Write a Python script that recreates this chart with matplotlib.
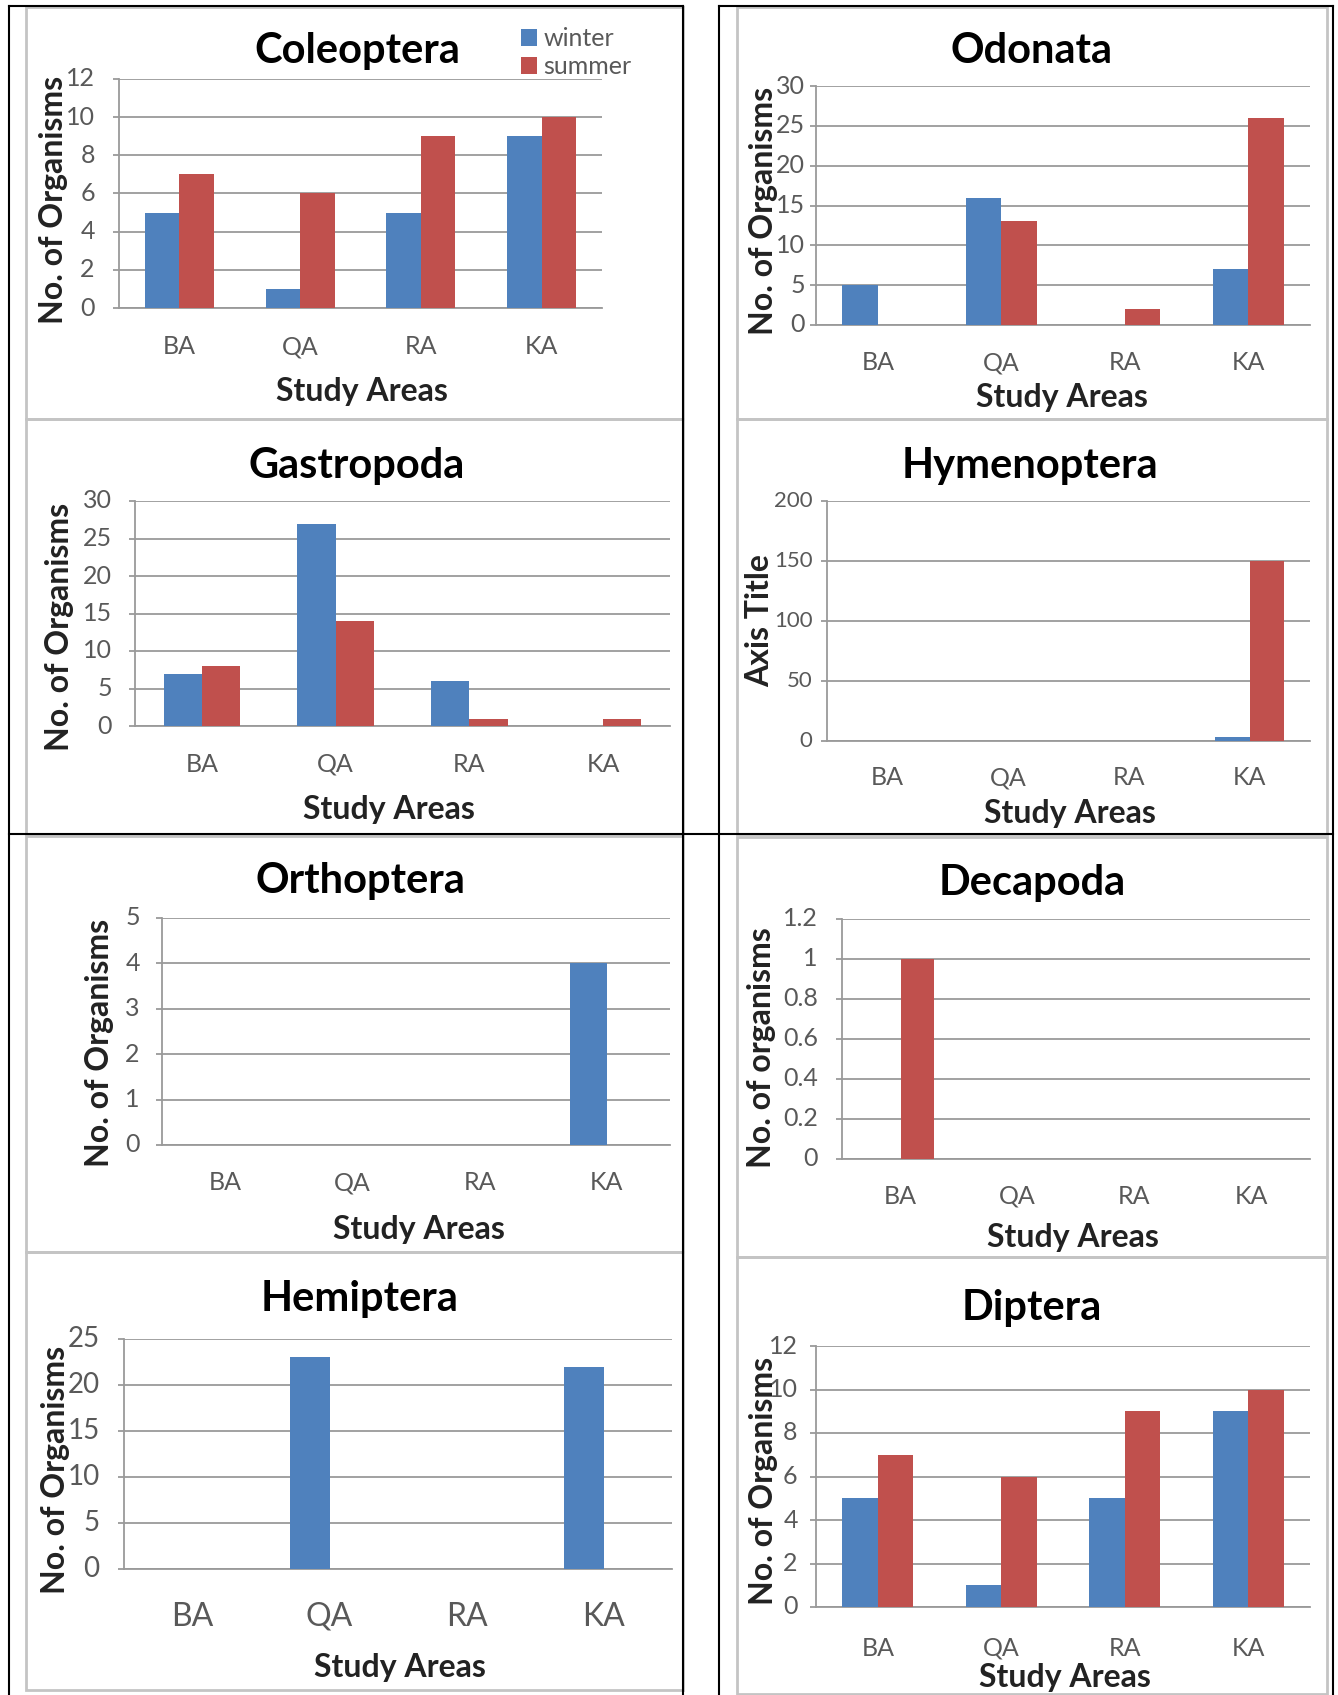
import matplotlib
matplotlib.use("Agg")
import matplotlib.pyplot as plt
from matplotlib.lines import Line2D
from matplotlib.patches import Rectangle
import numpy as np

plt.rcParams["font.family"] = ["Lato", "DejaVu Sans"]

W, H = 1338, 1695
BLUE = "#4F81BD"
RED = "#C0504D"
GRID = "#9a9a9a"
TICK = "#595959"

# ---------------- data ----------------
AREAS = ["BA", "QA", "RA", "KA"]
SEASONS = ["winter", "summer"]

coleoptera_winter = [5, 1, 5, 9]
coleoptera_summer = [7, 6, 9, 10]
odonata_winter = [5, 16, 0, 7]
odonata_summer = [0, 13, 2, 26]
gastropoda_winter = [7, 27, 6, 0]
gastropoda_summer = [8, 14, 1, 1]
hymenoptera_winter = [0, 0, 0, 3]
hymenoptera_summer = [0, 0, 0, 150]
orthoptera_winter = [0, 0, 0, 4]
orthoptera_summer = [0, 0, 0, 0]
decapoda_winter = [0, 0, 0, 0]
decapoda_summer = [1, 0, 0, 0]
hemiptera_winter = [0, 23, 0, 22]
hemiptera_summer = [0, 0, 0, 0]
diptera_winter = [5, 1, 5, 9]
diptera_summer = [7, 6, 9, 10]

ticks_12 = [0, 2, 4, 6, 8, 10, 12]
ticks_30 = [0, 5, 10, 15, 20, 25, 30]
ticks_200 = [0, 50, 100, 150, 200]
ticks_5 = [0, 1, 2, 3, 4, 5]
ticks_1_2 = [0, 0.2, 0.4, 0.6, 0.8, 1.0, 1.2]
tick_labels_1_2 = ["0", "0.2", "0.4", "0.6", "0.8", "1", "1.2"]
ticks_25 = [0, 5, 10, 15, 20, 25]

fig = plt.figure(figsize=(W / 100, H / 100), dpi=100)


def fx(x):
    return x / W


def fy(y):
    return 1 - y / H


def fline(x0, y0, x1, y1, color="black", lw=1.5):
    fig.add_artist(Line2D([fx(x0), fx(x1)], [fy(y0), fy(y1)], color=color,
                          lw=lw, transform=fig.transFigure))


def frame(x0, y0, x1, y1):
    fig.add_artist(Rectangle((fx(x0), fy(y1)), (x1 - x0) / W, (y1 - y0) / H,
                             fill=False, ec="#c4c4c4", lw=2.0,
                             transform=fig.transFigure))


# chart frames (grey) and table rules (black)
frame(26, 7, 683, 419)
frame(26, 419, 683, 834)
frame(26, 836, 683, 1252)
frame(26, 1252, 683, 1690)
frame(737, 7, 1327, 419)
frame(737, 419, 1327, 834)
frame(737, 837, 1327, 1257)
frame(737, 1257, 1327, 1694)

fline(9, 6, 683, 6)
fline(719, 6, 1333, 6)
fline(9, 834, 1333, 834)
for xv in (9, 683, 719, 1333):
    fline(xv, 6, xv, 1695)


def chart(title, winter, summer, ylab, yticks, ylabels, box, title_xy,
          xlab_xy, ylab_xy, xtick_dist, ytick_pad, tick_fs=18, ytick_fs=18):
    x0, y0, x1, y1 = box
    ax = fig.add_axes([fx(x0), fy(y1), (x1 - x0) / W, (y1 - y0) / H])
    idx = np.arange(len(AREAS))
    w = 1 / 3.5
    ax.bar(idx - w / 2, winter, w, color=BLUE, zorder=3, label=SEASONS[0])
    ax.bar(idx + w / 2, summer, w, color=RED, zorder=3, label=SEASONS[1])
    ax.set_xlim(-0.5, len(AREAS) - 0.5)
    ax.set_ylim(yticks[0], yticks[-1])
    ax.set_yticks(yticks, ylabels if ylabels else [str(t) for t in yticks])
    ax.set_xticks(idx, AREAS)
    ax.set_axisbelow(True)
    ax.yaxis.grid(True, color=GRID, lw=1.3)
    for s in ("top", "right"):
        ax.spines[s].set_visible(False)
    for s in ("left", "bottom"):
        ax.spines[s].set_color(GRID)
        ax.spines[s].set_linewidth(1.3)
    ax.tick_params(axis="x", length=0, pad=xtick_dist * 0.72,
                   labelsize=tick_fs, labelcolor=TICK)
    ax.tick_params(axis="y", length=4.5, width=1.3, color=GRID,
                   pad=(ytick_pad - 6) * 0.72, labelsize=ytick_fs,
                   labelcolor=TICK)
    for lb in ax.get_xticklabels():
        lb.set_va("center")
    for lb in ax.get_yticklabels():
        lb.set_va("center")
    fig.text(fx(title_xy[0]), fy(title_xy[1]), title, ha="center",
             va="center", fontsize=30, fontweight="bold")
    fig.text(fx(xlab_xy[0]), fy(xlab_xy[1]), "Study Areas", ha="center",
             va="center", fontsize=23, fontweight="bold", color="#222222")
    fig.text(fx(ylab_xy[0]), fy(ylab_xy[1]), ylab, ha="center", va="center",
             rotation=90, fontsize=23, fontweight="bold", color="#222222")
    return ax


ax = chart("Coleoptera", coleoptera_winter, coleoptera_summer,
           "No. of Organisms", ticks_12, None, (119, 79, 602, 308),
           (357, 51), (362, 391), (54, 200), 39, 24)
ax.legend(loc="upper left", bbox_to_anchor=(fx(511), fy(17)),
          bbox_transform=fig.transFigure, frameon=False, fontsize=18,
          handlelength=0.65, handleheight=0.65, handletextpad=0.25,
          labelspacing=0.2, labelcolor=TICK, borderaxespad=0)

chart("Odonata", odonata_winter, odonata_summer, "No. of Organisms",
      ticks_30, None, (816, 86, 1310, 325), (1032, 51), (1062, 398),
      (764, 211), 38, 11)

chart("Gastropoda", gastropoda_winter, gastropoda_summer, "No. of Organisms",
      ticks_30, None, (135, 501, 670, 726), (357, 466), (389, 809),
      (59, 627), 38, 23)

chart("Hymenoptera", hymenoptera_winter, hymenoptera_summer, "Axis Title",
      ticks_200, None, (827, 501, 1310, 741), (1030, 466), (1070, 813),
      (760, 621), 37, 14, ytick_fs=16)

chart("Orthoptera", orthoptera_winter, orthoptera_summer, "No. of Organisms",
      ticks_5, None, (162, 918, 670, 1145), (360, 881), (419, 1229),
      (100, 1043), 38, 22)

chart("Decapoda", decapoda_winter, decapoda_summer, "No. of organisms",
      ticks_1_2, tick_labels_1_2, (842, 919, 1310, 1159), (1032, 883),
      (1073, 1237), (762, 1048), 37, 24)

chart("Hemiptera", hemiptera_winter, hemiptera_summer, "No. of Organisms",
      ticks_25, None, (124, 1339, 672, 1569), (360, 1299), (400, 1667),
      (56, 1470), 48, 24, tick_fs=23, ytick_fs=20)

chart("Diptera", diptera_winter, diptera_summer, "No. of Organisms",
      ticks_12, None, (816, 1346, 1310, 1607), (1032, 1308), (1065, 1677),
      (763, 1481), 41, 18)

fig.savefig("out.png", dpi=100)
